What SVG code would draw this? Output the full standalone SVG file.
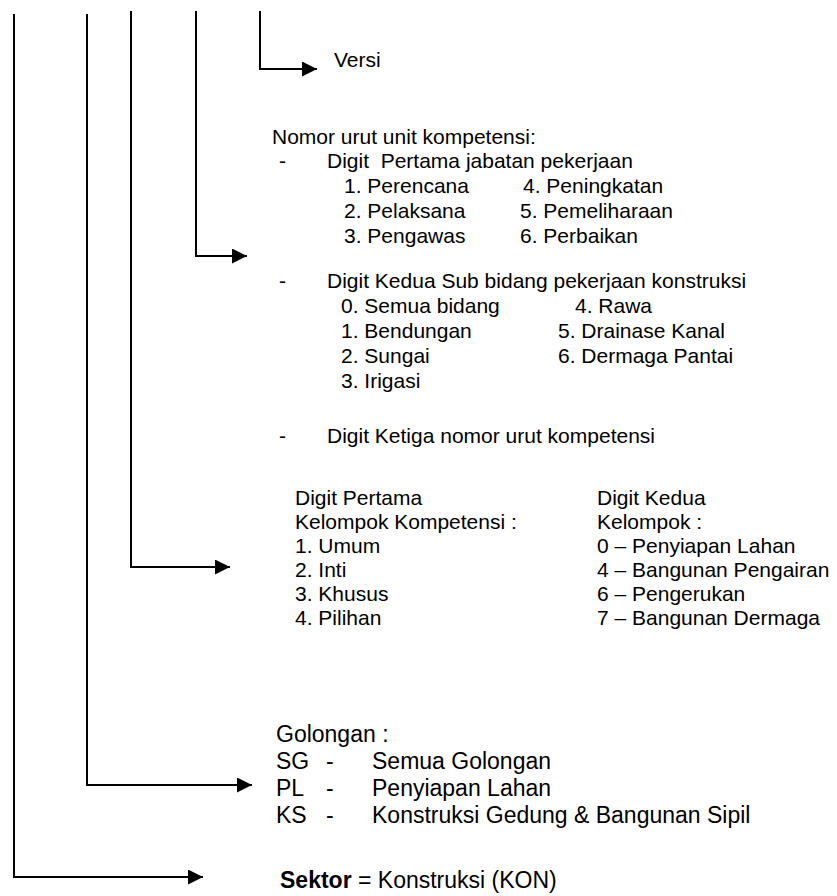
<svg xmlns="http://www.w3.org/2000/svg" width="837" height="896" viewBox="0 0 837 896">
<style>
text{font-family:"Liberation Sans",Arial,sans-serif;fill:#000}
.t{font-size:21px}
.b{font-size:23px}
.ln{stroke:#000;stroke-width:2;fill:none}
</style>
<defs>
<marker id="ah" markerWidth="15" markerHeight="15" refX="15" refY="7.5" orient="auto" markerUnits="userSpaceOnUse">
<path d="M0,0 L15,7.5 L0,15 Z" fill="#000"/>
</marker>
</defs>
<rect width="837" height="896" fill="#fff"/>
<g id="connectors">
<path class="ln" d="M14,14 V877 H203" marker-end="url(#ah)"/>
<path class="ln" d="M87,14 V785 H252" marker-end="url(#ah)"/>
<path class="ln" d="M131,11 V567 H230" marker-end="url(#ah)"/>
<path class="ln" d="M196,11 V256 H247" marker-end="url(#ah)"/>
<path class="ln" d="M260,11 V69 H317" marker-end="url(#ah)"/>
</g>
<g id="versi"><text class="t" x="334" y="67">Versi</text></g>
<g id="nomor-urut" class="t">
<text x="272" y="144">Nomor urut unit kompetensi:</text>
<text x="279" y="168">-</text>
<text x="327" y="168" xml:space="preserve">Digit  Pertama jabatan pekerjaan</text>
<text x="344" y="193">1. Perencana</text><text x="523" y="193">4. Peningkatan</text>
<text x="344" y="218">2. Pelaksana</text><text x="520" y="218">5. Pemeliharaan</text>
<text x="344" y="243">3. Pengawas</text><text x="520" y="243">6. Perbaikan</text>
<text x="279" y="288">-</text>
<text x="327" y="288">Digit Kedua Sub bidang pekerjaan konstruksi</text>
<text x="341" y="313">0. Semua bidang</text><text x="575" y="313">4. Rawa</text>
<text x="341" y="338">1. Bendungan</text><text x="558" y="338">5. Drainase Kanal</text>
<text x="341" y="363">2. Sungai</text><text x="558" y="363">6. Dermaga Pantai</text>
<text x="341" y="388">3. Irigasi</text>
<text x="279" y="443">-</text>
<text x="327" y="443">Digit Ketiga nomor urut kompetensi</text>
</g>
<g id="kelompok" class="t">
<text x="295" y="505">Digit Pertama</text>
<text x="295" y="529">Kelompok Kompetensi :</text>
<text x="295" y="553">1. Umum</text>
<text x="295" y="577">2. Inti</text>
<text x="295" y="601">3. Khusus</text>
<text x="295" y="625">4. Pilihan</text>
<text x="597" y="505">Digit Kedua</text>
<text x="597" y="529">Kelompok :</text>
<text x="597" y="553">0 – Penyiapan Lahan</text>
<text x="597" y="577">4 – Bangunan Pengairan</text>
<text x="597" y="601">6 – Pengerukan</text>
<text x="597" y="625">7 – Bangunan Dermaga</text>
</g>
<g id="golongan" class="b">
<text x="276" y="742">Golongan :</text>
<text x="276" y="769">SG</text><text x="326" y="769">-</text><text x="372" y="769">Semua Golongan</text>
<text x="276" y="796">PL</text><text x="326" y="796">-</text><text x="372" y="796">Penyiapan Lahan</text>
<text x="276" y="823">KS</text><text x="326" y="823">-</text><text x="372" y="823">Konstruksi Gedung &amp; Bangunan Sipil</text>
</g>
<g id="sektor" class="b">
<text x="280" y="888"><tspan font-weight="bold">Sektor</tspan> = Konstruksi (KON)</text>
</g>
</svg>
